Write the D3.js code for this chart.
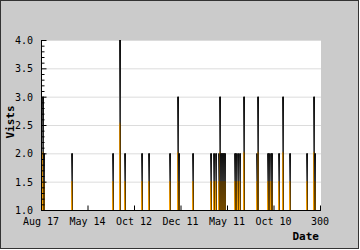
<!DOCTYPE html>
<html>
<head>
<meta charset="utf-8">
<script src="https://cdn.jsdelivr.net/npm/d3@7"></script>
<style>
  body { margin: 0; background: #fff; }
  svg { display: block; }
  text { font-family: "DejaVu Sans Mono", monospace; font-size: 10px; fill: #000; }
</style>
</head>
<body>
<svg width="360" height="250"></svg>
<script>
// day index (category position) of each day with more than one visit
var dayIndex = [1, 2, 32, 76, 84, 89, 107, 115, 138, 146, 147, 162,
    182, 185, 187, 190, 191, 193, 194, 195, 196, 197,
    207, 209, 211, 213, 217, 231, 232, 243, 244, 246, 247,
    255, 259, 267, 285, 292, 294];
var visits = [3, 2, 2, 2, 4, 2, 2, 2, 2, 3, 2, 2,
    2, 2, 2, 2, 3, 2, 2, 2, 2, 2,
    2, 2, 2, 2, 3, 2, 3, 2, 2, 2, 2,
    2, 3, 2, 2, 3, 2];
var xTickPos = [0, 50, 100, 150, 200, 250, 300];
var xTickLabels = ["Aug 17", "May 14", "Oct 12", "Dec 11", "May 11", "Oct 10", "300"];
var yTicks = [1.0, 1.5, 2.0, 2.5, 3.0, 3.5, 4.0];

var svg = d3.select("svg"),
    plot = {left: 41, right: 321, top: 40, bottom: 210};

var x = d3.scaleLinear().domain([0, 300]).range([plot.left, plot.right - 1]),
    y = d3.scaleLinear().domain([1, 4]).range([plot.bottom, plot.top]);

// frame
svg.append("rect")
    .attr("x", 0.5).attr("y", 0.5)
    .attr("width", 358).attr("height", 248)
    .attr("fill", "#cbcbcb")
    .attr("stroke", "#333");

svg.append("rect")
    .attr("x", plot.left).attr("y", plot.top)
    .attr("width", plot.right - plot.left).attr("height", plot.bottom - plot.top)
    .attr("fill", "#fff");

// gradient for the bars: dark at the top, orange at the foot
var grad = svg.append("defs").append("linearGradient")
    .attr("id", "barfill")
    .attr("x1", 0).attr("y1", 0).attr("x2", 0).attr("y2", 1);
grad.append("stop").attr("offset", "0%").attr("stop-color", "#1a1a1a");
grad.append("stop").attr("offset", "48%").attr("stop-color", "#707070");
grad.append("stop").attr("offset", "50%").attr("stop-color", "#b87808");
grad.append("stop").attr("offset", "100%").attr("stop-color", "#ffa500");

// grid
svg.append("g")
  .selectAll("line")
  .data(yTicks.slice(1))
  .enter().append("line")
    .attr("x1", plot.left).attr("x2", plot.right)
    .attr("y1", function(d) { return y(d) + 0.5; })
    .attr("y2", function(d) { return y(d) + 0.5; })
    .attr("stroke", "#dcdcdc");

// bars
var bars = svg.append("g");
bars.selectAll(".bar")
    .data(dayIndex)
  .enter().append("rect")
    .attr("class", "bar")
    .attr("x", function(d) { return Math.round(x(d)); })
    .attr("y", function(d, i) { return y(visits[i]); })
    .attr("width", 2)
    .attr("height", function(d, i) { return plot.bottom - y(visits[i]); })
    .attr("fill", "url(#barfill)");
bars.selectAll(".edge")
    .data(dayIndex)
  .enter().append("rect")
    .attr("class", "edge")
    .attr("x", function(d) { return Math.round(x(d)) + 1; })
    .attr("y", function(d, i) { return y(visits[i]); })
    .attr("width", 1)
    .attr("height", function(d, i) { return plot.bottom - y(visits[i]); })
    .attr("fill", "#000")
    .attr("opacity", 0.55);

// y axis
var yAxis = svg.append("g")
    .attr("transform", "translate(" + (plot.left + 0.5) + ",0)")
    .call(d3.axisRight(y).tickValues(d3.range(10, 41).map(function(d) { return d / 10; }))
      .tickSize(3).tickFormat(""));
yAxis.selectAll(".tick line")
    .attr("x2", function(d) { return Math.abs(d * 2 - Math.round(d * 2)) < 1e-6 ? 5 : 3; });
yAxis.select(".domain").attr("d", "M0," + plot.top + "V" + (plot.bottom + 0.5));
yAxis.selectAll("line, path").attr("stroke", "#000");

svg.append("g").selectAll("text")
    .data(yTicks)
  .enter().append("text")
    .attr("x", 33)
    .attr("y", function(d) { return y(d) + 4; })
    .attr("text-anchor", "end")
    .text(function(d) { return d.toFixed(1); });

// x axis
var xAxis = svg.append("g")
    .attr("transform", "translate(0," + (plot.bottom + 0.5) + ")")
    .call(d3.axisTop(x).tickValues(xTickPos).tickSize(5).tickFormat(""));
xAxis.select(".domain").attr("d", "M" + plot.left + ",0H" + plot.right);
xAxis.selectAll("line, path").attr("stroke", "#000");

svg.append("g").selectAll("text")
    .data(xTickPos)
  .enter().append("text")
    .attr("x", function(d) { return x(d); })
    .attr("y", 225)
    .attr("text-anchor", "middle")
    .text(function(d, i) { return xTickLabels[i]; });

// axis titles
svg.append("text")
    .attr("x", 319).attr("y", 240)
    .attr("text-anchor", "end")
    .style("font-weight", "bold").style("font-size", "11px")
    .text("Date");

svg.append("text")
    .attr("transform", "translate(14,122) rotate(-90)")
    .attr("text-anchor", "middle")
    .style("font-weight", "bold").style("font-size", "11px")
    .text("Vists");
</script>
</body>
</html>
